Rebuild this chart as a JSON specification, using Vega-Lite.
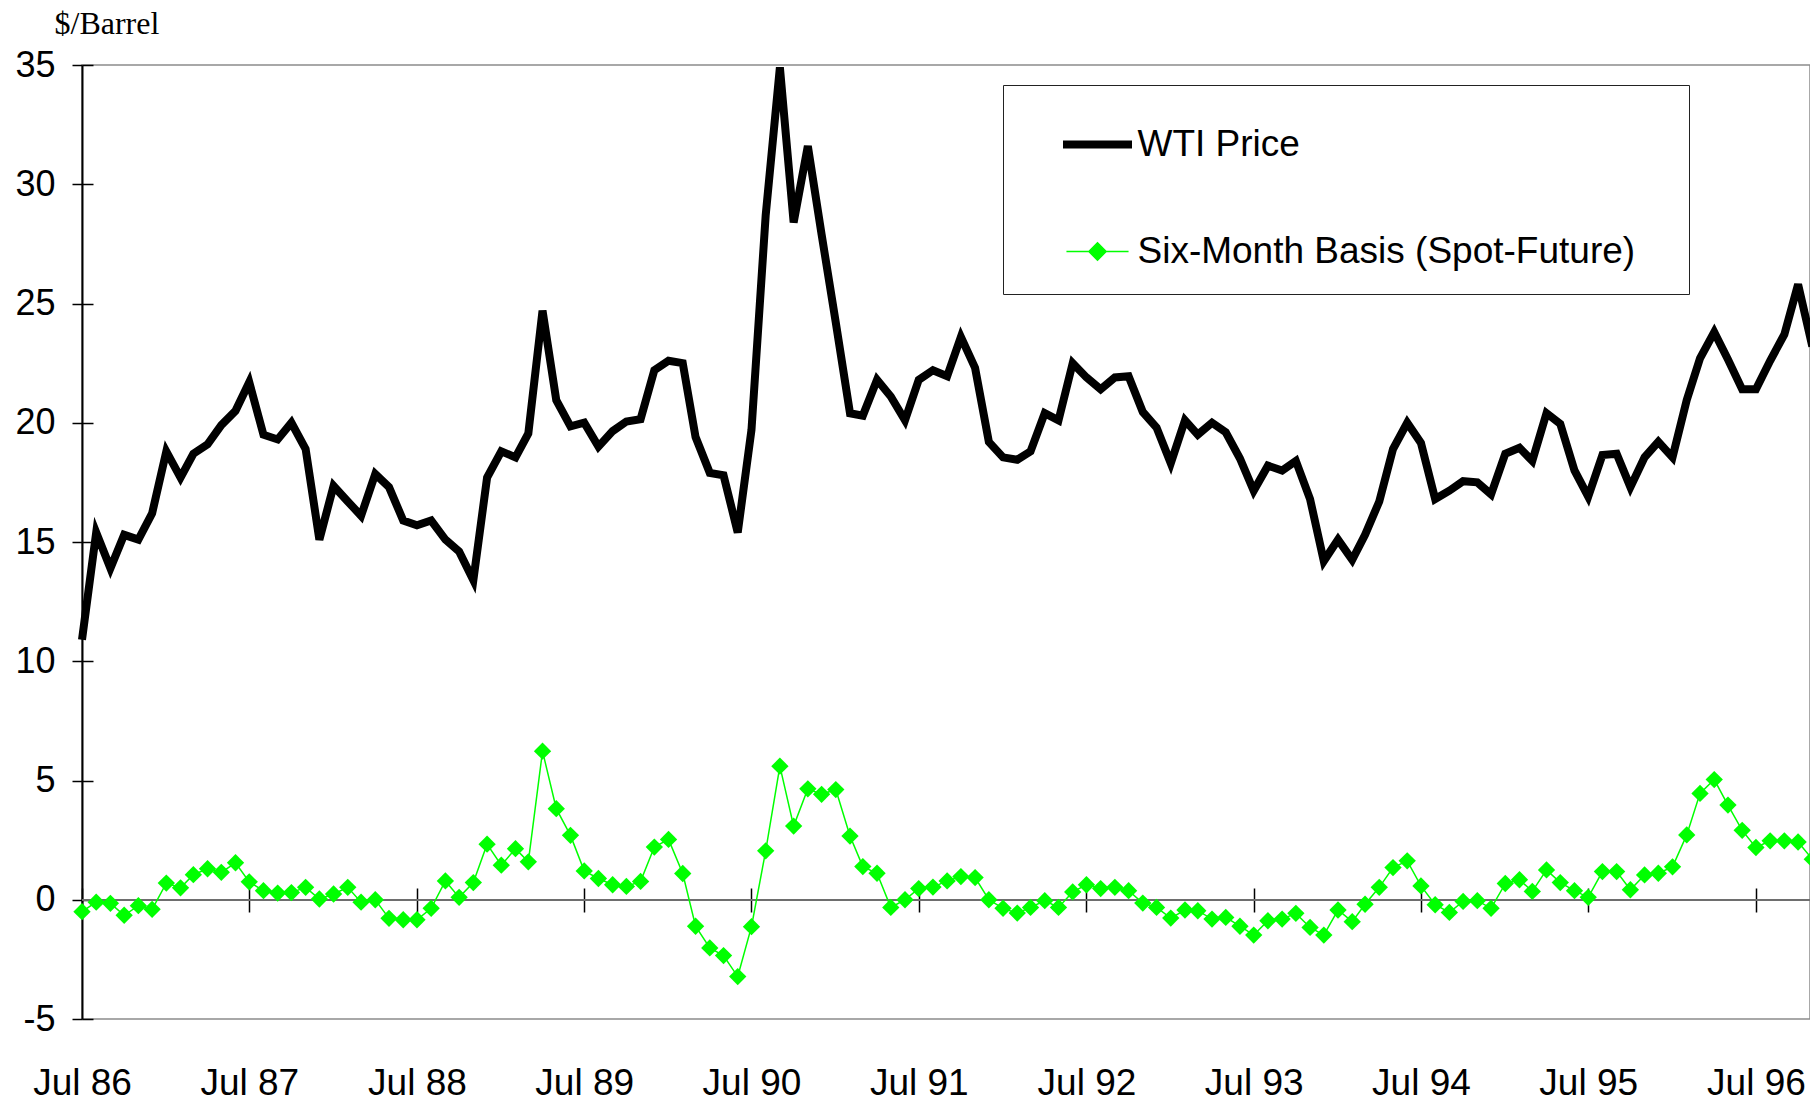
{
  "$schema": "https://vega.github.io/schema/vega-lite/v6.json",
  "width": 1728,
  "height": 954,
  "autosize": {"type": "none"},
  "padding": {"left": 82, "top": 65, "right": 0, "bottom": 85},
  "background": "white",
  "config": {"view": {"stroke": "#8c8c8c", "strokeWidth": 1.5}, "axis": {"grid": false}},
  "data": {"values": [
    {"date": "1986-07-01", "wti": 10.9, "basis": -0.5},
    {"date": "1986-08-01", "wti": 15.4, "basis": -0.1},
    {"date": "1986-09-01", "wti": 13.9, "basis": -0.15},
    {"date": "1986-10-01", "wti": 15.3, "basis": -0.65},
    {"date": "1986-11-01", "wti": 15.1, "basis": -0.25},
    {"date": "1986-12-01", "wti": 16.2, "basis": -0.4},
    {"date": "1987-01-01", "wti": 18.8, "basis": 0.7},
    {"date": "1987-02-01", "wti": 17.7, "basis": 0.5},
    {"date": "1987-03-01", "wti": 18.7, "basis": 1.05},
    {"date": "1987-04-01", "wti": 19.1, "basis": 1.3},
    {"date": "1987-05-01", "wti": 19.9, "basis": 1.15},
    {"date": "1987-06-01", "wti": 20.5, "basis": 1.55},
    {"date": "1987-07-01", "wti": 21.7, "basis": 0.75},
    {"date": "1987-08-01", "wti": 19.5, "basis": 0.38},
    {"date": "1987-09-01", "wti": 19.3, "basis": 0.28},
    {"date": "1987-10-01", "wti": 20.0, "basis": 0.3},
    {"date": "1987-11-01", "wti": 18.9, "basis": 0.52},
    {"date": "1987-12-01", "wti": 15.1, "basis": 0.03},
    {"date": "1988-01-01", "wti": 17.35, "basis": 0.24},
    {"date": "1988-02-01", "wti": 16.7, "basis": 0.52},
    {"date": "1988-03-01", "wti": 16.1, "basis": -0.1},
    {"date": "1988-04-01", "wti": 17.85, "basis": 0.0},
    {"date": "1988-05-01", "wti": 17.3, "basis": -0.78},
    {"date": "1988-06-01", "wti": 15.9, "basis": -0.84},
    {"date": "1988-07-01", "wti": 15.7, "basis": -0.84},
    {"date": "1988-08-01", "wti": 15.9, "basis": -0.36},
    {"date": "1988-09-01", "wti": 15.1, "basis": 0.79},
    {"date": "1988-10-01", "wti": 14.6, "basis": 0.1},
    {"date": "1988-11-01", "wti": 13.4, "basis": 0.72},
    {"date": "1988-12-01", "wti": 17.7, "basis": 2.33},
    {"date": "1989-01-01", "wti": 18.8, "basis": 1.45},
    {"date": "1989-02-01", "wti": 18.55, "basis": 2.14},
    {"date": "1989-03-01", "wti": 19.55, "basis": 1.59},
    {"date": "1989-04-01", "wti": 24.7, "basis": 6.23},
    {"date": "1989-05-01", "wti": 20.95, "basis": 3.82},
    {"date": "1989-06-01", "wti": 19.85, "basis": 2.7},
    {"date": "1989-07-01", "wti": 20.0, "basis": 1.21},
    {"date": "1989-08-01", "wti": 19.0, "basis": 0.89},
    {"date": "1989-09-01", "wti": 19.65, "basis": 0.63},
    {"date": "1989-10-01", "wti": 20.05, "basis": 0.56},
    {"date": "1989-11-01", "wti": 20.15, "basis": 0.77},
    {"date": "1989-12-01", "wti": 22.2, "basis": 2.21},
    {"date": "1990-01-01", "wti": 22.6, "basis": 2.53},
    {"date": "1990-02-01", "wti": 22.5, "basis": 1.1},
    {"date": "1990-03-01", "wti": 19.4, "basis": -1.11},
    {"date": "1990-04-01", "wti": 17.9, "basis": -2.02},
    {"date": "1990-05-01", "wti": 17.8, "basis": -2.34},
    {"date": "1990-06-01", "wti": 15.4, "basis": -3.22},
    {"date": "1990-07-01", "wti": 19.7, "basis": -1.13},
    {"date": "1990-08-01", "wti": 28.7, "basis": 2.05},
    {"date": "1990-09-01", "wti": 34.9, "basis": 5.6},
    {"date": "1990-10-01", "wti": 28.4, "basis": 3.09},
    {"date": "1990-11-01", "wti": 31.6, "basis": 4.65},
    {"date": "1990-12-01", "wti": 27.9, "basis": 4.42},
    {"date": "1991-01-01", "wti": 24.2, "basis": 4.62},
    {"date": "1991-02-01", "wti": 20.4, "basis": 2.67},
    {"date": "1991-03-01", "wti": 20.3, "basis": 1.39},
    {"date": "1991-04-01", "wti": 21.8, "basis": 1.11},
    {"date": "1991-05-01", "wti": 21.1, "basis": -0.32},
    {"date": "1991-06-01", "wti": 20.1, "basis": 0.0},
    {"date": "1991-07-01", "wti": 21.8, "basis": 0.47},
    {"date": "1991-08-01", "wti": 22.2, "basis": 0.53},
    {"date": "1991-09-01", "wti": 21.95, "basis": 0.79},
    {"date": "1991-10-01", "wti": 23.6, "basis": 0.97},
    {"date": "1991-11-01", "wti": 22.3, "basis": 0.93},
    {"date": "1991-12-01", "wti": 19.2, "basis": 0.0},
    {"date": "1992-01-01", "wti": 18.55, "basis": -0.36},
    {"date": "1992-02-01", "wti": 18.45, "basis": -0.56},
    {"date": "1992-03-01", "wti": 18.8, "basis": -0.32},
    {"date": "1992-04-01", "wti": 20.4, "basis": -0.04},
    {"date": "1992-05-01", "wti": 20.1, "basis": -0.32},
    {"date": "1992-06-01", "wti": 22.5, "basis": 0.33},
    {"date": "1992-07-01", "wti": 21.9, "basis": 0.63},
    {"date": "1992-08-01", "wti": 21.4, "basis": 0.47},
    {"date": "1992-09-01", "wti": 21.9, "basis": 0.52},
    {"date": "1992-10-01", "wti": 21.95, "basis": 0.38},
    {"date": "1992-11-01", "wti": 20.45, "basis": -0.14},
    {"date": "1992-12-01", "wti": 19.8, "basis": -0.32},
    {"date": "1993-01-01", "wti": 18.3, "basis": -0.77},
    {"date": "1993-02-01", "wti": 20.1, "basis": -0.43},
    {"date": "1993-03-01", "wti": 19.5, "basis": -0.46},
    {"date": "1993-04-01", "wti": 20.0, "basis": -0.81},
    {"date": "1993-05-01", "wti": 19.6, "basis": -0.74},
    {"date": "1993-06-01", "wti": 18.5, "basis": -1.11},
    {"date": "1993-07-01", "wti": 17.15, "basis": -1.48},
    {"date": "1993-08-01", "wti": 18.2, "basis": -0.88},
    {"date": "1993-09-01", "wti": 18.0, "basis": -0.81},
    {"date": "1993-10-01", "wti": 18.4, "basis": -0.57},
    {"date": "1993-11-01", "wti": 16.8, "basis": -1.16},
    {"date": "1993-12-01", "wti": 14.2, "basis": -1.48},
    {"date": "1994-01-01", "wti": 15.1, "basis": -0.43},
    {"date": "1994-02-01", "wti": 14.25, "basis": -0.92},
    {"date": "1994-03-01", "wti": 15.3, "basis": -0.19},
    {"date": "1994-04-01", "wti": 16.7, "basis": 0.52},
    {"date": "1994-05-01", "wti": 18.9, "basis": 1.35},
    {"date": "1994-06-01", "wti": 20.0, "basis": 1.63},
    {"date": "1994-07-01", "wti": 19.15, "basis": 0.58},
    {"date": "1994-08-01", "wti": 16.8, "basis": -0.21},
    {"date": "1994-09-01", "wti": 17.15, "basis": -0.53},
    {"date": "1994-10-01", "wti": 17.55, "basis": -0.07},
    {"date": "1994-11-01", "wti": 17.5, "basis": -0.04},
    {"date": "1994-12-01", "wti": 17.0, "basis": -0.36},
    {"date": "1995-01-01", "wti": 18.7, "basis": 0.68},
    {"date": "1995-02-01", "wti": 18.95, "basis": 0.84},
    {"date": "1995-03-01", "wti": 18.4, "basis": 0.35},
    {"date": "1995-04-01", "wti": 20.4, "basis": 1.25},
    {"date": "1995-05-01", "wti": 19.95, "basis": 0.72},
    {"date": "1995-06-01", "wti": 18.0, "basis": 0.38},
    {"date": "1995-07-01", "wti": 16.9, "basis": 0.1},
    {"date": "1995-08-01", "wti": 18.65, "basis": 1.18},
    {"date": "1995-09-01", "wti": 18.7, "basis": 1.18},
    {"date": "1995-10-01", "wti": 17.3, "basis": 0.42},
    {"date": "1995-11-01", "wti": 18.55, "basis": 1.04},
    {"date": "1995-12-01", "wti": 19.2, "basis": 1.11},
    {"date": "1996-01-01", "wti": 18.55, "basis": 1.38},
    {"date": "1996-02-01", "wti": 20.95, "basis": 2.72},
    {"date": "1996-03-01", "wti": 22.7, "basis": 4.46},
    {"date": "1996-04-01", "wti": 23.8, "basis": 5.04},
    {"date": "1996-05-01", "wti": 22.65, "basis": 3.97},
    {"date": "1996-06-01", "wti": 21.4, "basis": 2.91},
    {"date": "1996-07-01", "wti": 21.4, "basis": 2.19},
    {"date": "1996-08-01", "wti": 22.6, "basis": 2.47},
    {"date": "1996-09-01", "wti": 23.7, "basis": 2.47},
    {"date": "1996-10-01", "wti": 25.8, "basis": 2.42},
    {"date": "1996-11-01", "wti": 23.2, "basis": 1.7}
  ]},
  "transform": [{"fold": ["wti", "basis"], "as": ["series", "value"]}],
  "resolve": {"axis": {"x": "independent", "y": "independent"}},
  "layer": [
    {
      "transform": [{"filter": "datum.series === 'wti'"}],
      "mark": {"type": "line", "strokeWidth": 8},
      "encoding": {
        "x": {
          "field": "date", "type": "temporal",
          "scale": {"type": "utc", "domain": [{"year": 1986, "month": 7, "date": 1, "utc": true}, {"year": 1996, "month": 10, "date": 27, "utc": true}]},
          "axis": {
            "orient": "bottom",
            "values": [
              {"year": 1986, "month": 7, "date": 1, "utc": true}, {"year": 1987, "month": 7, "date": 1, "utc": true},
              {"year": 1988, "month": 7, "date": 1, "utc": true}, {"year": 1989, "month": 7, "date": 1, "utc": true},
              {"year": 1990, "month": 7, "date": 1, "utc": true}, {"year": 1991, "month": 7, "date": 1, "utc": true},
              {"year": 1992, "month": 7, "date": 1, "utc": true}, {"year": 1993, "month": 7, "date": 1, "utc": true},
              {"year": 1994, "month": 7, "date": 1, "utc": true}, {"year": 1995, "month": 7, "date": 1, "utc": true},
              {"year": 1996, "month": 7, "date": 1, "utc": true}
            ],
            "labelExpr": "utcFormat(datum.value, '%b %y')",
            "ticks": false, "tickSize": 0, "domain": false, "grid": false,
            "labelFont": "Liberation Sans", "labelFontSize": 37, "labelColor": "#000000",
            "labelBaseline": "alphabetic", "labelPadding": 75,
            "labelFlush": false, "labelOverlap": false, "title": null
          }
        },
        "y": {
          "field": "value", "type": "quantitative",
          "scale": {"domain": [-5, 35], "nice": false, "zero": false},
          "axis": {
            "orient": "left",
            "values": [-5, 0, 5, 10, 15, 20, 25, 30, 35],
            "labelExpr": "datum.value < 0 ? '-' + abs(datum.value) : '' + datum.value",
            "tickSize": 10, "tickWidth": 1.5, "tickColor": "#000000",
            "domainColor": "#000000", "domainWidth": 2, "grid": false,
            "labelFont": "Liberation Sans", "labelFontSize": 36, "labelColor": "#000000", "labelPadding": 17,
            "title": "$/Barrel", "titleFont": "Liberation Serif", "titleFontSize": 32, "titleFontWeight": "normal",
            "titleColor": "#000000", "titleAngle": 0, "titleAlign": "left", "titleBaseline": "alphabetic",
            "titleX": -28, "titleY": -32
          }
        },
        "color": {
          "field": "series", "type": "nominal",
          "scale": {"domain": ["wti", "basis"], "range": ["#000000", "#00ff00"]},
          "legend": {
            "orient": "none", "legendX": 921, "legendY": 20, "direction": "vertical",
            "title": " ", "titleOrient": "right", "titleFontSize": 1, "titlePadding": 30,
            "padding": 24, "rowPadding": 53,
            "strokeColor": "#222222", "fillColor": "#ffffff",
            "labelFont": "Liberation Sans", "labelFontSize": 37, "labelColor": "#000000", "labelLimit": 900,
            "labelExpr": "datum.value === 'wti' ? 'WTI Price' : 'Six-Month Basis (Spot-Future)'",
            "symbolType": "stroke", "symbolSize": 4761, "symbolStrokeWidth": 8,
            "symbolOffset": 35, "labelOffset": 4.5,
            "encode": {
              "symbols": {
                "update": {
                  "shape": {"signal": "datum.value === 'wti' ? 'stroke' : 'M-0.9,0H0.9M0,-0.25L0.25,0L0,0.25L-0.25,0Z'"},
                  "fill": {"signal": "datum.value === 'wti' ? 'transparent' : '#00ff00'"},
                  "stroke": {"signal": "datum.value === 'wti' ? '#000000' : '#00ff00'"},
                  "strokeWidth": {"signal": "(datum.value === 'wti' ? 8 : 1.5)"},
                  "opacity": {"value": 1}
                }
              }
            }
          }
        }
      }
    },
    {
      "mark": {"type": "rule", "color": "#6e6e6e", "strokeWidth": 1.5},
      "encoding": {"y": {"datum": 0, "type": "quantitative", "axis": null}}
    },
    {
      "transform": [{"filter": "datum.series === 'basis'"}],
      "mark": {"type": "line", "strokeWidth": 1.5},
      "encoding": {
        "x": {
          "field": "date", "type": "temporal",
          "axis": {
            "orient": "bottom", "offset": -131,
            "values": [
              {"year": 1986, "month": 7, "date": 1, "utc": true}, {"year": 1987, "month": 7, "date": 1, "utc": true},
              {"year": 1988, "month": 7, "date": 1, "utc": true}, {"year": 1989, "month": 7, "date": 1, "utc": true},
              {"year": 1990, "month": 7, "date": 1, "utc": true}, {"year": 1991, "month": 7, "date": 1, "utc": true},
              {"year": 1992, "month": 7, "date": 1, "utc": true}, {"year": 1993, "month": 7, "date": 1, "utc": true},
              {"year": 1994, "month": 7, "date": 1, "utc": true}, {"year": 1995, "month": 7, "date": 1, "utc": true},
              {"year": 1996, "month": 7, "date": 1, "utc": true}
            ],
            "tickSize": 24, "tickWidth": 1.5, "tickColor": "#000000",
            "domain": false, "labels": false, "grid": false, "title": null
          }
        },
        "y": {
          "field": "value", "type": "quantitative",
          "axis": {
            "orient": "left", "offset": -11,
            "values": [-5, 0, 5, 10, 15, 20, 25, 30, 35],
            "tickSize": 11, "tickWidth": 1.5, "tickColor": "#000000",
            "domain": false, "labels": false, "grid": false, "title": null
          }
        },
        "color": {"field": "series", "type": "nominal"}
      }
    },
    {
      "transform": [{"filter": "datum.series === 'basis'"}],
      "mark": {"type": "point", "shape": "diamond", "size": 300, "filled": true, "opacity": 1, "strokeWidth": 0},
      "encoding": {
        "x": {"field": "date", "type": "temporal", "axis": null},
        "y": {"field": "value", "type": "quantitative", "axis": null},
        "color": {"field": "series", "type": "nominal"}
      }
    }
  ]
}
